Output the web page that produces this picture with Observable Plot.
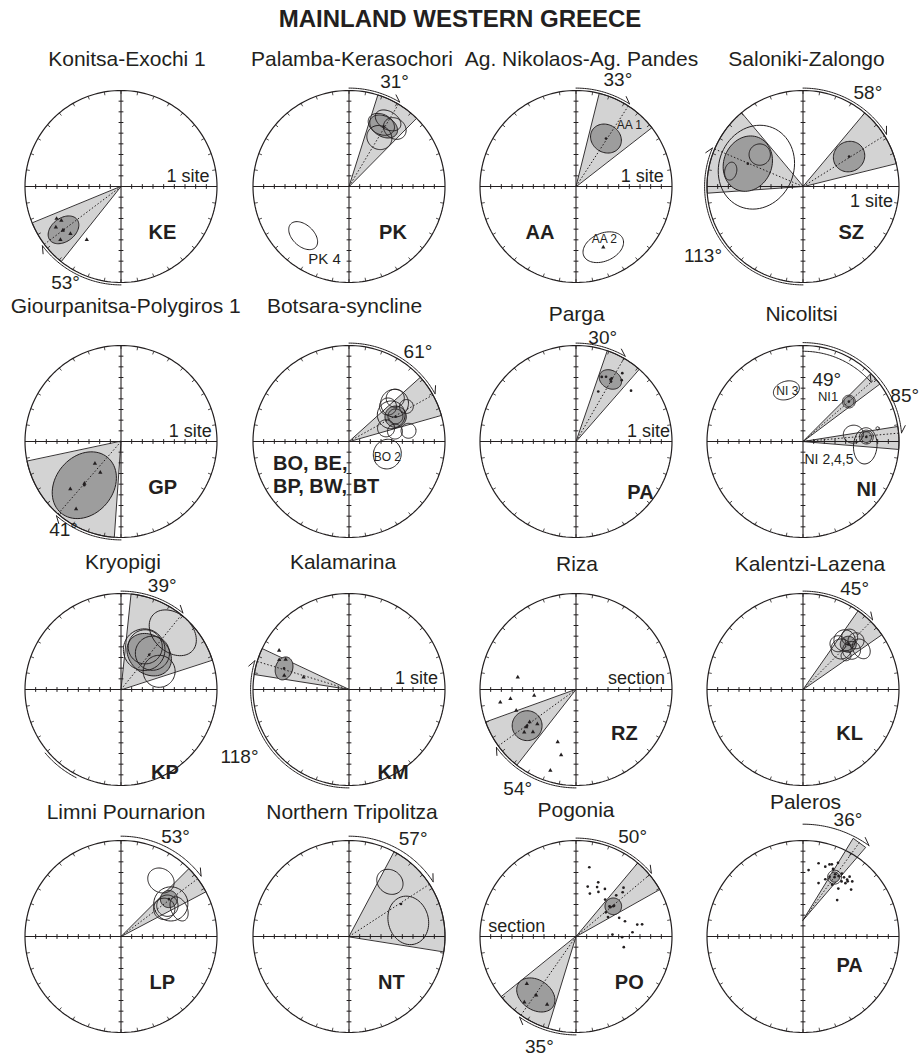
<!DOCTYPE html>
<html>
<head>
<meta charset="utf-8">
<script src="https://cdn.jsdelivr.net/npm/d3@7"></script>
<script src="https://cdn.jsdelivr.net/npm/@observablehq/plot@0.6"></script>
<style>
  body { margin: 0; background: #fff; }
  #fig { position: relative; width: 920px; height: 1056px; overflow: hidden; font-family: "Liberation Sans", Arial, sans-serif; }
  #heading { position: absolute; left: 0; top: 7px; width: 920px; text-align: center; font-weight: bold; font-size: 24px; line-height: 24px; color: #231f20; }
  .panel { position: absolute; }
  .panel svg { overflow: visible; }
</style>
</head>
<body>
<div id="fig"><div id="heading">MAINLAND WESTERN GREECE</div></div>
<script>
// ---------- localities ----------
const panelNames = ["Konitsa-Exochi 1", "Palamba-Kerasochori", "Ag. Nikolaos-Ag. Pandes", "Saloniki-Zalongo",
  "Giourpanitsa-Polygiros 1", "Botsara-syncline", "Parga", "Nicolitsi",
  "Kryopigi", "Kalamarina", "Riza", "Kalentzi-Lazena",
  "Limni Pournarion", "Northern Tripolitza", "Pogonia", "Paleros"];
const panelCodes = [["KE"], ["PK"], ["AA"], ["SZ"], ["GP"], ["BO, BE,", "BP, BW, BT"], ["PA"], ["NI"],
  ["KP"], ["KM"], ["RZ"], ["KL"], ["LP"], ["NT"], ["PO"], ["PA"]];
const panelNotes = ["1 site", "", "1 site", "1 site", "1 site", "", "1 site", "", "", "1 site", "section", "", "", "", "section", ""];

// ---------- locality mean directions with confidence ellipse semi-axes (deg) ----------
const localityMeans = [
  {p: 0, dec: 233, inc: 22.5, semiR: 16, semiT: 11},
  {p: 1, dec: 30, inc: 25, semiR: 9.5, semiT: 14},
  {p: 2, dec: 32, inc: 37, semiR: 13, semiT: 15},
  {p: 3, dec: 57, inc: 38.5, semiR: 15, semiT: 14},
  {p: 3, dec: 292.5, inc: 34, semiR: 22.5, semiT: 26.5},
  {p: 4, dec: 220, inc: 36.5, semiR: 34, semiT: 27},
  {p: 5, dec: 62, inc: 40.5, semiR: 10, semiT: 10},
  {p: 6, dec: 29, inc: 23.5, semiR: 8.5, semiT: 11},
  {p: 7, dec: 49, inc: 33, semiR: 4.7, semiT: 4.7},
  {p: 7, dec: 86, inc: 30.5, semiR: 5, semiT: 5},
  {p: 8, dec: 39, inc: 48, semiR: 18, semiT: 22.5},
  {p: 9, dec: 288, inc: 26, semiR: 8, semiT: 11},
  {p: 10, dec: 233.5, inc: 33, semiR: 14, semiT: 14},
  {p: 11, dec: 45, inc: 30, semiR: 7.5, semiT: 7.5},
  {p: 12, dec: 52, inc: 33, semiR: 8, semiT: 8},
  {p: 13, dec: 58, inc: 32.5, semiR: 0, semiT: 0},
  {p: 14, dec: 51, inc: 45, semiR: 7.8, semiT: 7.8},
  {p: 14, dec: 214.5, inc: 23.5, semiR: 14, semiT: 19.5},
  {p: 15, dec: 28, inc: 27, semiR: 4.7, semiT: 4.7}
];

// ---------- declination error wedges (deg) ----------
const declinationWedges = [
  {p: 0, dec: 233, lo: 14.5, hi: 14.5},
  {p: 1, dec: 31, lo: 13.5, hi: 13.5},
  {p: 2, dec: 33, lo: 19, hi: 19},
  {p: 3, dec: 58, lo: 18, hi: 18},
  {p: 3, dec: 293, lo: 27, hi: 27},
  {p: 4, dec: 221, lo: 37, hi: 37},
  {p: 5, dec: 61, lo: 13, hi: 13},
  {p: 6, dec: 30, lo: 11, hi: 11},
  {p: 7, dec: 49, lo: 4, hi: 4},
  {p: 7, dec: 85, lo: 4, hi: 9.5},
  {p: 8, dec: 39, lo: 33, hi: 33},
  {p: 9, dec: 287, lo: 8, hi: 8},
  {p: 10, dec: 234, lo: 16, hi: 16},
  {p: 11, dec: 45, lo: 10, hi: 10},
  {p: 12, dec: 53, lo: 8, hi: 9},
  {p: 13, dec: 57, lo: 29, hi: 42},
  {p: 14, dec: 50, lo: 10, hi: 10.5},
  {p: 14, dec: 215, lo: 18, hi: 16},
  {p: 15, dec: 36, lo: 4.5, hi: 4.5, apexDec: 0, apexInc: 74.7, reach: 1.0}
];

// ---------- site means with their confidence ellipses (deg) ----------
const siteMeans = [
  {p: 1, dec: 27.5, inc: 24.3, semiR: 9.4, semiT: 13},
  {p: 1, dec: 31.8, inc: 36, semiR: 11, semiT: 12},
  {p: 1, dec: 38.3, inc: 20.7, semiR: 9.4, semiT: 11.3},
  {p: 1, dec: 30.6, inc: 18, semiR: 8.4, semiT: 13},
  {p: 1, dec: 223, inc: 27, semiR: 10, semiT: 16},
  {p: 2, dec: 155.8, inc: 27.6, semiR: 13, semiT: 20},
  {p: 3, dec: 292.5, inc: 42.7, semiR: 35, semiT: 40},
  {p: 3, dec: 306.4, inc: 39.6, semiR: 10, semiT: 10},
  {p: 3, dec: 282, inc: 20.7, semiR: 5.6, semiT: 8.5},
  {p: 5, dec: 46.9, inc: 30.6, semiR: 8.5, semiT: 8.5},
  {p: 5, dec: 48.1, inc: 40.9, semiR: 8, semiT: 8},
  {p: 5, dec: 58.6, inc: 27, semiR: 6.5, semiT: 6.5},
  {p: 5, dec: 70.4, inc: 53.1, semiR: 8, semiT: 8},
  {p: 5, dec: 77.8, inc: 45.9, semiR: 7, semiT: 7},
  {p: 5, dec: 79.8, inc: 33.3, semiR: 7, semiT: 7},
  {p: 5, dec: 61.6, inc: 40.5, semiR: 7, semiT: 7},
  {p: 5, dec: 50, inc: 34.2, semiR: 13, semiT: 13},
  {p: 5, dec: 57.7, inc: 43.2, semiR: 13, semiT: 13},
  {p: 5, dec: 108.2, inc: 52.2, semiR: 13, semiT: 14},
  {p: 7, dec: 81.7, inc: 42.3, semiR: 9.4, semiT: 8.4},
  {p: 7, dec: 94, inc: 31.5, semiR: 11, semiT: 17},
  {p: 7, dec: 86, inc: 30.5, semiR: 6.5, semiT: 6.5},
  {p: 7, dec: 80, inc: 19, semiR: 1.5, semiT: 1.5},
  {p: 7, dec: 342, inc: 39.6, semiR: 8.5, semiT: 12.5},
  {p: 7, dec: 49, inc: 33, semiR: 6, semiT: 6},
  {p: 8, dec: 42.4, inc: 18, semiR: 18, semiT: 25},
  {p: 8, dec: 30.2, inc: 46.8, semiR: 19.5, semiT: 19.5},
  {p: 8, dec: 40.9, inc: 45, semiR: 16, semiT: 16},
  {p: 8, dec: 29.6, inc: 44, semiR: 16, semiT: 16},
  {p: 8, dec: 64.5, inc: 50.4, semiR: 15, semiT: 15},
  {p: 11, dec: 40.3, inc: 29.7, semiR: 10, semiT: 10},
  {p: 11, dec: 43.3, inc: 37.8, semiR: 9.4, semiT: 9.4},
  {p: 11, dec: 51.1, inc: 31.5, semiR: 8.4, semiT: 8.4},
  {p: 11, dec: 55.1, inc: 23.4, semiR: 7.5, semiT: 10},
  {p: 11, dec: 41.7, inc: 24.3, semiR: 7.5, semiT: 7.5},
  {p: 11, dec: 37.4, inc: 36, semiR: 7.5, semiT: 7.5},
  {p: 11, dec: 47.4, inc: 22.5, semiR: 7.5, semiT: 7.5},
  {p: 11, dec: 51.9, inc: 38.7, semiR: 4.7, semiT: 4.7},
  {p: 12, dec: 35.5, inc: 25.5, semiR: 11, semiT: 13},
  {p: 12, dec: 56.8, inc: 34.2, semiR: 16, semiT: 16},
  {p: 12, dec: 56.4, inc: 37.8, semiR: 10, semiT: 10},
  {p: 12, dec: 64.6, inc: 29.7, semiR: 7.5, semiT: 12},
  {p: 12, dec: 57.4, inc: 41.9, semiR: 10, semiT: 10},
  {p: 13, dec: 36.8, inc: 26, semiR: 11, semiT: 13},
  {p: 13, dec: 74.8, inc: 32.4, semiR: 18.8, semiT: 23},
  {p: 15, dec: 28, inc: 27, semiR: 6.5, semiT: 6.5}
];
const siteNames = [
  {p: 1, text: "PK 4"}, {p: 2, text: "AA 1"}, {p: 2, text: "AA 2"}, {p: 5, text: "BO 2"},
  {p: 7, text: "NI 3"}, {p: 7, text: "NI1"}, {p: 7, text: "NI 2,4,5"}
];

// ---------- individual directions ----------
const sampleDirs = [
  // Konitsa-Exochi
  {p: 0, dec: 243.5, inc: 22.5}, {p: 0, dec: 240.3, inc: 25.6}, {p: 0, dec: 238, inc: 18}, {p: 0, dec: 233, inc: 21.6},
  {p: 0, dec: 227, inc: 25.2}, {p: 0, dec: 228.7, inc: 14.4}, {p: 0, dec: 212.7, inc: 30.6},
  // Ag. Nikolaos
  {p: 2, dec: 155.8, inc: 27.6},
  // Giourpanitsa
  {p: 4, dec: 229.8, inc: 58}, {p: 4, dec: 213.7, inc: 55}, {p: 4, dec: 221.1, inc: 37.8}, {p: 4, dec: 226.8, inc: 24.8}, {p: 4, dec: 213.6, inc: 13.9},
  // Kalamarina
  {p: 9, dec: 299.1, inc: 15}, {p: 9, dec: 295.3, inc: 24.3}, {p: 9, dec: 293, inc: 18.9}, {p: 9, dec: 282.2, inc: 27.9}, {p: 9, dec: 285.1, inc: 45.9},
  // Riza
  {p: 10, dec: 281.9, inc: 34.2}, {p: 10, dec: 260.5, inc: 18}, {p: 10, dec: 261.9, inc: 27.9}, {p: 10, dec: 261.8, inc: 50.4},
  {p: 10, dec: 250.7, inc: 30.6}, {p: 10, dec: 235, inc: 36.9}, {p: 10, dec: 233, inc: 31.5}, {p: 10, dec: 225.4, inc: 33.3},
  {p: 10, dec: 230.4, inc: 27}, {p: 10, dec: 228.2, inc: 41.4}, {p: 10, dec: 199.2, inc: 37.8}, {p: 10, dec: 192.8, inc: 27}, {p: 10, dec: 197.6, inc: 10.4},
  // Pogonia, reversed
  {p: 14, dec: 226.2, inc: 26.1}, {p: 14, dec: 214.1, inc: 23.4}, {p: 14, dec: 203, inc: 20.7}, {p: 14, dec: 218.2, inc: 11.7}
];
const sampleDots = [
  // Parga
  {p: 6, dec: 21.7, inc: 24.8}, {p: 6, dec: 24.9, inc: 23.1}, {p: 6, dec: 29.5, inc: 22.1}, {p: 6, dec: 30.3, inc: 24.9},
  {p: 6, dec: 34.1, inc: 12.6}, {p: 6, dec: 36.7, inc: 18.3}, {p: 6, dec: 47.3, inc: 19.8}, {p: 6, dec: 24, inc: 38.7},
  // Pogonia, normal
  {p: 14, dec: 10.9, inc: 23.9}, {p: 14, dec: 22.3, inc: 35.1}, {p: 14, dec: 13.2, inc: 41.9}, {p: 14, dec: 23.1, inc: 39.6},
  {p: 14, dec: 31.3, inc: 37.8}, {p: 14, dec: 17.9, inc: 47.7}, {p: 14, dec: 26.7, inc: 43.2}, {p: 14, dec: 44.3, inc: 36},
  {p: 14, dec: 44.2, inc: 26.1}, {p: 14, dec: 46.5, inc: 29.7}, {p: 14, dec: 38.3, inc: 45.9}, {p: 14, dec: 48, inc: 47.7},
  {p: 14, dec: 51, inc: 44.1}, {p: 14, dec: 51, inc: 54}, {p: 14, dec: 58.7, inc: 54.9}, {p: 14, dec: 66.6, inc: 45.9},
  {p: 14, dec: 72.7, inc: 41.9}, {p: 14, dec: 79, inc: 31.5}, {p: 14, dec: 79.6, inc: 27}, {p: 14, dec: 85.7, inc: 36.9},
  {p: 14, dec: 86.9, inc: 55.8}, {p: 14, dec: 90.9, inc: 46.8}, {p: 14, dec: 102.6, inc: 44.1}, {p: 14, dec: 49.5, inc: 47.7},
  // Paleros
  {p: 15, dec: 4.8, inc: 27.5}, {p: 15, dec: 12, inc: 19.8}, {p: 15, dec: 17.7, inc: 21.3}, {p: 15, dec: 20.2, inc: 18},
  {p: 15, dec: 21.8, inc: 17.1}, {p: 15, dec: 24, inc: 20.7}, {p: 15, dec: 25.4, inc: 13.5}, {p: 15, dec: 27.3, inc: 24.3},
  {p: 15, dec: 30.5, inc: 24.3}, {p: 15, dec: 31.7, inc: 20.7}, {p: 15, dec: 34.7, inc: 22.5}, {p: 15, dec: 37.8, inc: 22.5},
  {p: 15, dec: 37.9, inc: 18.9}, {p: 15, dec: 39, inc: 23.4}, {p: 15, dec: 41.8, inc: 20.7}, {p: 15, dec: 38.5, inc: 26.1},
  {p: 15, dec: 24, inc: 28.8}, {p: 15, dec: 21.3, inc: 32.4}, {p: 15, dec: 16.2, inc: 37.8}, {p: 15, dec: 36.4, inc: 34.2},
  {p: 15, dec: 45.7, inc: 27}, {p: 15, dec: 43.2, inc: 43.2}, {p: 15, dec: 29.4, inc: 34.2}, {p: 15, dec: 35, inc: 27}
];

// ---------- vertical-axis rotations ----------
const rotationArcs = [
  {p: 0, from: 180, to: 233, label: "53°"},
  {p: 1, from: 0, to: 31, label: "31°"},
  {p: 2, from: 0, to: 33, label: "33°"},
  {p: 3, from: 0, to: 58, label: "58°"},
  {p: 3, from: 180, to: 293, label: "113°"},
  {p: 4, from: 180, to: 221, label: "41°"},
  {p: 5, from: 0, to: 61, label: "61°"},
  {p: 6, from: 0, to: 30, label: "30°"},
  {p: 7, from: 0, to: 49, label: "49°"},
  {p: 7, from: 0, to: 85, label: "85°"},
  {p: 8, from: 0, to: 39, label: "39°"},
  {p: 8, from: 207, to: 230, label: ""},
  {p: 9, from: 180, to: 287, label: "118°"},
  {p: 10, from: 180, to: 234, label: "54°"},
  {p: 11, from: 0, to: 45, label: "45°"},
  {p: 12, from: 0, to: 53, label: "53°"},
  {p: 13, from: 0, to: 57, label: "57°"},
  {p: 14, from: 0, to: 50, label: "50°"},
  {p: 14, from: 180, to: 215, label: "35°"},
  {p: 15, from: 0, to: 36, label: "36°"}
];

// ---------- page layout (pixels / radii) ----------
const R = 96, W = 227, H = 272, TOP = 142;
const colX = [120.5, 348, 575, 802];
const rowY = [186, 441, 689, 936];
const titleShift = [[6, 121], [3, 121], [5.5, 121], [3.5, 121], [4.7, 129], [-4.5, 129], [0.7, 120.7], [-1.4, 120.7],
  [2, 120.7], [-6, 120.7], [1, 119], [7, 119], [5, 117.7], [3, 117.7], [0, 119.3], [2.5, 128]];
const codeSpot = [[41.5, -45.7], [44, -46], [-36, -45.7], [48.3, -45.7], [41.7, -46], [-76, -21.6], [64.5, -51], [63.5, -48],
  [44, -82.7], [44, -82.7], [48.3, -43.7], [46.6, -43.7], [41.2, -45.7], [42.3, -45.7], [53.3, -45.7], [46.6, -29.5]];
const noteSpot = [[88.5, 10], null, [87.7, 10], [90, -15], [90.7, 9.8], null, [94, 9.8], null,
  null, [89, 11.5], [89, 11.5], null, null, null, [-87.7, 10], null];
const siteNameSpot = [[-24.4, -72.3, 15, "middle"], [53.3, 61, 12, "middle"], [28.3, -53, 12, "middle"], [38.3, -15.3, 12, "middle"],
  [-15.7, 50, 12, "middle"], [25, 45, 13, "middle"], [1.5, -17.6, 14, "start"]];
const arcStyle = [
  {r: 1.025, lab: [210, 1.155]}, {r: 1.025, lab: [23.6, 1.186]}, {r: 1.025, lab: [21.5, 1.19]},
  {r: 1.025, lab: [34.6, 1.19]}, {r: 1.025, lab: [235.4, 1.265]}, {r: 1.025, lab: [213, 1.1]},
  {r: 1.025, lab: [37.7, 1.175]}, {r: 1.025, lab: [14.4, 1.118]}, {r: 0.94, lab: [21, 0.69]},
  {r: 1.03, lab: [66, 1.16]}, {r: 1.025, lab: [21.7, 1.16]}, {r: 1.03, lab: null, plain: true},
  {r: 1.025, lab: [238.3, 1.34]}, {r: 1.025, lab: [210.4, 1.2]}, {r: 1.025, lab: [27.1, 1.18]},
  {r: 1.045, lab: [28.8, 1.18]}, {r: 1.045, lab: [33.2, 1.22]}, {r: 1.025, lab: [29.7, 1.19]},
  {r: 1.025, lab: [198.3, 1.215]}, {r: 1.17, lab: [21.1, 1.3]}
];

const INK = "#231f20", WEDGE = "#d3d3d3", MEAN = "#9d9d9d";

// ---------- projection helpers ----------
const rad = d => d * Math.PI / 180;
const polar = (dec, r) => [r * Math.sin(rad(dec)), r * Math.cos(rad(dec))];
const proj = (dec, inc) => polar(dec, (90 - Math.abs(inc)) / 90);

function ellipseRing(e, id, n = 72) {
  const [cx, cy] = proj(e.dec, e.inc);
  const th = rad(e.dec + (e.tilt || 0));
  const a = e.semiR / 90, b = e.semiT / 90;
  return d3.range(n).map(k => {
    const t = 2 * Math.PI * k / n, ca = a * Math.cos(t), sb = b * Math.sin(t);
    return {id, x: cx + ca * Math.sin(th) + sb * Math.cos(th), y: cy + ca * Math.cos(th) - sb * Math.sin(th)};
  });
}
function wedgeRing(w, id) {
  if (w.apexInc != null) {
    const [ax, ay] = proj(w.apexDec, w.apexInc);
    const e1 = polar(w.dec - w.lo, w.reach), e2 = polar(w.dec + w.hi, w.reach);
    return [{id, x: ax, y: ay}, {id, x: ax + e1[0], y: ay + e1[1]}, {id, x: ax + e2[0], y: ay + e2[1]}];
  }
  const angles = d3.range(w.dec - w.lo, w.dec + w.hi, 1).concat([w.dec + w.hi]);
  return [{id, x: 0, y: 0}, ...angles.map(a => { const [x, y] = polar(a, 1); return {id, x, y}; })];
}
function wedgeAxis(w) {
  if (w.apexInc != null) {
    const [ax, ay] = proj(w.apexDec, w.apexInc), [ex, ey] = polar(w.dec, w.reach);
    return {x1: ax, y1: ay, x2: ax + ex, y2: ay + ey};
  }
  const [ex, ey] = polar(w.dec, 1);
  return {x1: 0, y1: 0, x2: ex, y2: ey};
}

// stereonet frame: primitive circle, rim ticks every 10°, axis ticks every 10° of inclination
const rimPts = d3.range(0, 361, 2).map(a => { const [x, y] = polar(a, 1); return {x, y}; });
const rimTicks = d3.range(0, 360, 10).map(a => { const [x1, y1] = polar(a, 1), [x2, y2] = polar(a, 0.965); return {x1, y1, x2, y2}; });
const axisTicks = [];
for (const inc of d3.range(10, 90, 10)) {
  const r = (90 - inc) / 90;
  for (const s of [-1, 1]) {
    axisTicks.push({x1: s * r, y1: -0.025, x2: s * r, y2: 0.025});
    axisTicks.push({x1: -0.025, y1: s * r, x2: 0.025, y2: s * r});
  }
}
const axes = [{x1: -1, y1: 0, x2: 1, y2: 0}, {x1: 0, y1: -1, x2: 0, y2: 1}];

function panel(p) {
  const wedges = declinationWedges.filter(d => d.p === p);
  const wedgePts = wedges.flatMap((w, i) => wedgeRing(w, i));
  const means = localityMeans.filter(d => d.p === p);
  const meanPts = means.filter(m => m.semiR > 0).flatMap((m, i) => ellipseRing(m, i));
  const sitePts = siteMeans.filter(d => d.p === p).flatMap((s, i) => ellipseRing(s, i));
  const meanXY = means.map(m => { const [x, y] = proj(m.dec, m.inc); return {x, y}; });
  const tri = sampleDirs.filter(d => d.p === p).map(d => { const [x, y] = proj(d.dec, d.inc); return {x, y}; });
  const dots = sampleDots.filter(d => d.p === p).map(d => { const [x, y] = proj(d.dec, d.inc); return {x, y}; });

  const arcPts = [], barbs = [], arcLabels = [];
  rotationArcs.forEach((a, i) => {
    if (a.p !== p) return;
    const st = arcStyle[i], s = Math.sign(a.to - a.from);
    d3.range(a.from, a.to, s).concat([a.to]).forEach(d => { const [x, y] = polar(d, st.r); arcPts.push({id: i, x, y}); });
    if (!st.plain) {
      const [x1, y1] = polar(a.to, st.r), [x2, y2] = polar(a.to - s * 4, st.r + 0.05);
      barbs.push({x1, y1, x2, y2});
    }
    if (st.lab) { const [x, y] = polar(st.lab[0], st.lab[1]); arcLabels.push({x, y, text: a.label}); }
  });

  // text groups
  const [tdx, tup] = titleShift[p];
  const title = [{x: tdx / R, y: (tup + 6.7) / R, text: panelNames[p]}];
  const [cdx, cdy] = codeSpot[p];
  const codes = panelCodes[p].map((c, k) => ({x: cdx / R, y: (cdy - 23.5 * k) / R, text: c}));
  const codeAnchor = panelCodes[p].length > 1 ? "start" : "middle";
  const notes = [];
  let noteAnchor = "end";
  if (noteSpot[p]) {
    const [nx, ny] = noteSpot[p];
    notes.push({x: nx / R, y: ny / R, text: panelNotes[p]});
    noteAnchor = nx > 0 ? "end" : "start";
  }
  const namesMid = [], namesStart = [];
  siteNames.forEach((s, i) => {
    if (s.p !== p) return;
    const [sx, sy, size, anchor] = siteNameSpot[i];
    (anchor === "start" ? namesStart : namesMid).push({x: sx / R, y: sy / R, text: s.text, size});
  });

  const marks = [
    Plot.line(wedgePts, {x: "x", y: "y", z: "id", curve: "linear-closed", fill: WEDGE, stroke: INK, strokeWidth: 0.9}),
    Plot.link(axes, {x1: "x1", y1: "y1", x2: "x2", y2: "y2", stroke: INK, strokeWidth: 1.1}),
    Plot.link(axisTicks, {x1: "x1", y1: "y1", x2: "x2", y2: "y2", stroke: INK, strokeWidth: 1}),
    Plot.line(rimPts, {x: "x", y: "y", stroke: INK, strokeWidth: 1.2}),
    Plot.link(rimTicks, {x1: "x1", y1: "y1", x2: "x2", y2: "y2", stroke: INK, strokeWidth: 0.8}),
    Plot.line(meanPts, {x: "x", y: "y", z: "id", curve: "linear-closed", fill: MEAN, stroke: INK, strokeWidth: 1}),
    Plot.line(sitePts, {x: "x", y: "y", z: "id", curve: "linear-closed", stroke: INK, strokeWidth: 1}),
    Plot.link(wedges.map(wedgeAxis), {x1: "x1", y1: "y1", x2: "x2", y2: "y2", stroke: INK, strokeWidth: 1, strokeDasharray: "1.5,2"}),
    Plot.dot(tri, {x: "x", y: "y", symbol: "triangle", r: 1.6, fill: INK}),
    Plot.dot(dots, {x: "x", y: "y", r: 1.35, fill: INK}),
    Plot.dot(meanXY, {x: "x", y: "y", r: 1.3, fill: INK}),
    Plot.line(arcPts, {x: "x", y: "y", z: "id", stroke: INK, strokeWidth: 1}),
    Plot.link(barbs, {x1: "x1", y1: "y1", x2: "x2", y2: "y2", stroke: INK, strokeWidth: 1}),
    Plot.text(arcLabels, {x: "x", y: "y", text: "text", fontSize: 19, fill: INK}),
    Plot.text(title, {x: "x", y: "y", text: "text", fontSize: 21, fill: INK}),
    Plot.text(codes, {x: "x", y: "y", text: "text", fontSize: 20, fontWeight: "bold", textAnchor: codeAnchor, fill: INK}),
    Plot.text(notes, {x: "x", y: "y", text: "text", fontSize: 18, textAnchor: noteAnchor, fill: INK}),
    Plot.text(namesMid, {x: "x", y: "y", text: "text", fontSize: d => d.size, fill: INK}),
    Plot.text(namesStart, {x: "x", y: "y", text: "text", fontSize: d => d.size, textAnchor: "start", fill: INK})
  ];

  return Plot.plot({
    width: W, height: H, margin: 0,
    x: {domain: [-W / 2 / R, W / 2 / R], axis: null},
    y: {domain: [-(H - TOP) / R, TOP / R], axis: null},
    style: {background: "transparent", overflow: "visible", fontFamily: "'Liberation Sans', Arial, sans-serif"},
    marks
  });
}

const fig = document.getElementById("fig");
panelNames.forEach((name, p) => {
  const div = document.createElement("div");
  div.className = "panel";
  div.style.left = (colX[p % 4] - W / 2) + "px";
  div.style.top = (rowY[Math.floor(p / 4)] - TOP) + "px";
  div.appendChild(panel(p));
  fig.appendChild(div);
});
</script>
</body>
</html>
